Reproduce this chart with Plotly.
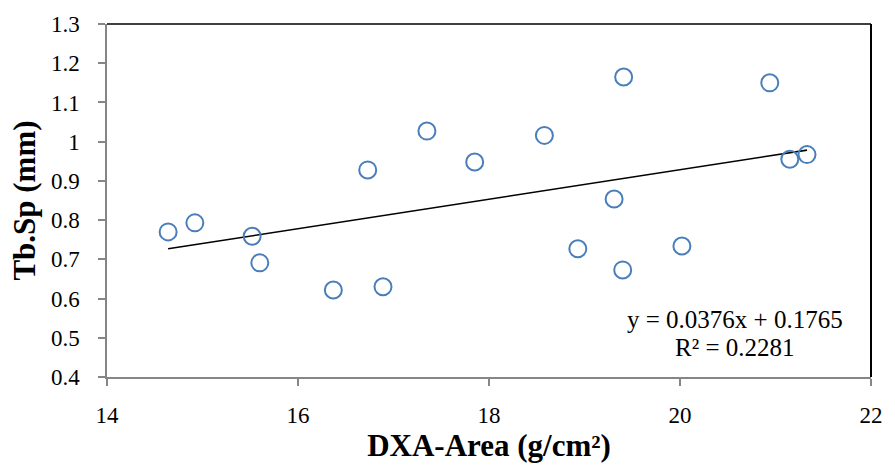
import plotly.graph_objects as go

# DXA-measured area (g/cm^2) and trabecular separation (mm)
dxa_area = [14.64, 14.92, 15.52, 15.60, 16.37, 16.73, 16.89, 17.35, 17.85,
            18.58, 18.93, 19.31, 19.40, 19.41, 20.02, 20.94, 21.15, 21.33]
tb_sp = [0.770, 0.793, 0.759, 0.691, 0.622, 0.928, 0.630, 1.027, 0.948,
         1.016, 0.727, 0.854, 0.673, 1.165, 0.734, 1.150, 0.955, 0.967]

# Linear fit reported on the chart
slope = 0.0376
intercept = 0.1765
r_squared = 0.2281

x_ticks = [14, 16, 18, 20, 22]
y_ticks = [0.4, 0.5, 0.6, 0.7, 0.8, 0.9, 1.0, 1.1, 1.2, 1.3]
y_tick_text = ["0.4", "0.5", "0.6", "0.7", "0.8", "0.9", "1", "1.1", "1.2", "1.3"]

FONT = "Liberation Serif"
AXIS_GREY = "#868686"

fit_x = [min(dxa_area), max(dxa_area)]
fit_y = [slope * v + intercept for v in fit_x]

fig = go.Figure()

fig.add_trace(go.Scatter(
    x=fit_x, y=fit_y, mode="lines",
    line=dict(color="black", width=1.6),
    hoverinfo="skip", showlegend=False,
))

fig.add_trace(go.Scatter(
    x=dxa_area, y=tb_sp, mode="markers",
    marker=dict(symbol="circle-open", size=17,
                color="#4a7ebb", line=dict(color="#4a7ebb", width=2)),
    showlegend=False,
))

# black frame on the top and right of the plot area
fig.add_shape(type="line", xref="paper", yref="paper", x0=0, x1=1, y0=1, y1=1,
              line=dict(color="black", width=1.5), layer="below")
fig.add_shape(type="line", xref="paper", yref="paper", x0=1, x1=1, y0=0, y1=1,
              line=dict(color="black", width=2), layer="below")

# fit equation and R² as two centred lines
eq_font = dict(family=FONT, size=25, color="black")
fig.add_annotation(xref="x", yref="y", x=20.58, y=0.547,
                   text=f"y = {slope}x + {intercept}",
                   showarrow=False, font=eq_font)
fig.add_annotation(xref="x", yref="y", x=20.58, y=0.475,
                   text=f"R² = {r_squared}",
                   showarrow=False, font=eq_font)

fig.update_xaxes(
    range=[14, 22], tickvals=x_ticks, ticktext=[str(t) for t in x_ticks],
    showline=True, linecolor=AXIS_GREY, linewidth=1.5,
    ticks="outside", ticklen=7, tickcolor=AXIS_GREY, tickwidth=1.5,
    showgrid=False, zeroline=False,
    tickfont=dict(family=FONT, size=23, color="black"),
    ticklabelstandoff=10,
    title=dict(text="<b>DXA-Area (g/cm²)</b>",
               font=dict(family=FONT, size=31, color="black"), standoff=4),
)
fig.update_yaxes(
    range=[0.4, 1.3], tickvals=y_ticks, ticktext=y_tick_text,
    showline=True, linecolor=AXIS_GREY, linewidth=1.5,
    ticks="outside", ticklen=7, tickcolor=AXIS_GREY, tickwidth=1.5,
    showgrid=False, zeroline=False,
    tickfont=dict(family=FONT, size=23, color="black"),
    ticklabelstandoff=14,
    title=dict(text="<b>Tb.Sp (mm)</b>",
               font=dict(family=FONT, size=31, color="black"), standoff=6),
)

fig.update_layout(
    width=895, height=472,
    margin=dict(l=107, r=16, t=17, b=95),
    plot_bgcolor="white", paper_bgcolor="white",
)

fig.write_html("out.html")
